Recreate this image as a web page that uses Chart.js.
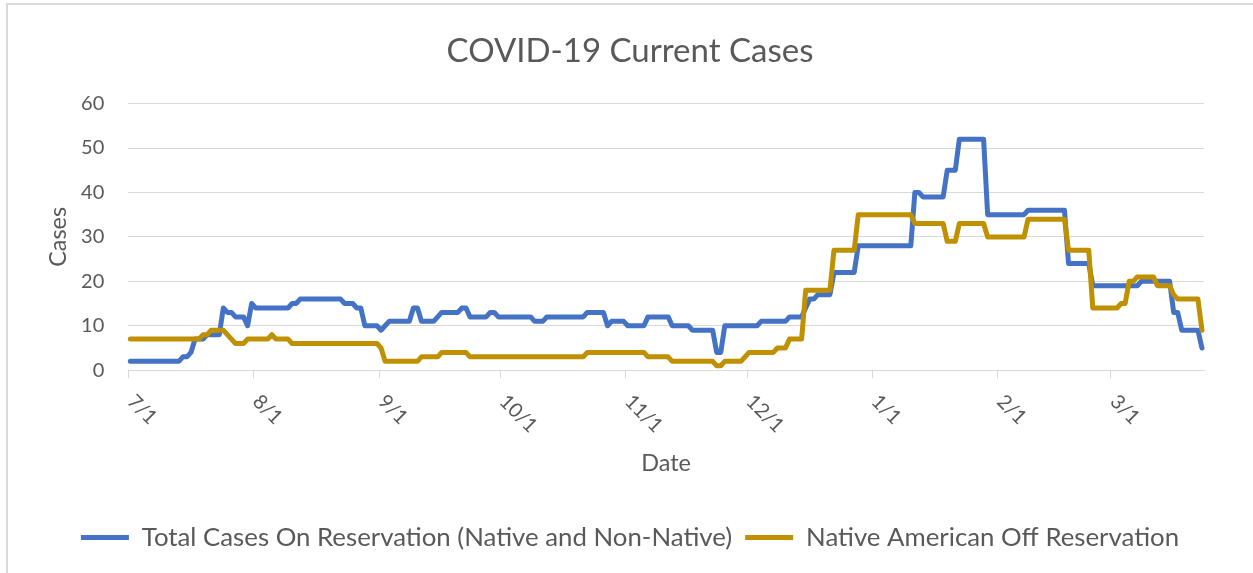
<!DOCTYPE html>
<html>
<head>
<meta charset="utf-8">
<script src="https://cdn.jsdelivr.net/npm/chart.js@4"></script>
<style>
  html, body { margin: 0; padding: 0; background: #fff; overflow: hidden; }
  #frame { position: absolute; left: 6px; top: 3px; width: 1300px; height: 620px;
           border-left: 2px solid #d9d9d9; border-top: 2px solid #d9d9d9; }
  #wrap { position: absolute; left: 0; top: 0; width: 1253px; height: 573px; }
</style>
</head>
<body>
<div id="frame"></div>
<div id="wrap"><canvas id="chart" width="1253" height="573"></canvas></div>
<script>
// daily values, 7/1 .. 3/23 (one row per month)
var onReservation = [
  2,2,2,2,2,2,2,2,2,2,2,2,2,3,3,4,7,7,7,8,8,8,8,14,13,13,12,12,12,10,15,
  14,14,14,14,14,14,14,14,14,15,15,16,16,16,16,16,16,16,16,16,16,16,15,15,15,14,14,10,10,10,10,
  9,10,11,11,11,11,11,11,14,14,11,11,11,11,12,13,13,13,13,13,14,14,12,12,12,12,12,13,13,12,
  12,12,12,12,12,12,12,12,11,11,11,12,12,12,12,12,12,12,12,12,12,13,13,13,13,13,10,11,11,11,11,
  10,10,10,10,10,12,12,12,12,12,12,10,10,10,10,10,9,9,9,9,9,9,4,4,10,10,10,10,10,10,
  10,10,10,11,11,11,11,11,11,11,12,12,12,12,14,16,16,17,17,17,17,22,22,22,22,22,22,28,28,28,28,
  28,28,28,28,28,28,28,28,28,28,40,40,39,39,39,39,39,39,45,45,45,52,52,52,52,52,52,52,35,35,35,
  35,35,35,35,35,35,35,36,36,36,36,36,36,36,36,36,36,24,24,24,24,24,24,19,19,19,19,19,
  19,19,19,19,19,19,19,20,20,20,20,20,20,20,20,13,13,9,9,9,9,9,5
];
var offReservation = [
  7,7,7,7,7,7,7,7,7,7,7,7,7,7,7,7,7,7,8,8,9,9,9,9,8,7,6,6,6,7,7,
  7,7,7,7,8,7,7,7,7,6,6,6,6,6,6,6,6,6,6,6,6,6,6,6,6,6,6,6,6,6,6,
  5,2,2,2,2,2,2,2,2,2,3,3,3,3,3,4,4,4,4,4,4,4,3,3,3,3,3,3,3,3,
  3,3,3,3,3,3,3,3,3,3,3,3,3,3,3,3,3,3,3,3,3,4,4,4,4,4,4,4,4,4,4,
  4,4,4,4,4,3,3,3,3,3,3,2,2,2,2,2,2,2,2,2,2,2,1,1,2,2,2,2,2,3,
  4,4,4,4,4,4,4,5,5,5,7,7,7,7,18,18,18,18,18,18,18,27,27,27,27,27,27,35,35,35,35,
  35,35,35,35,35,35,35,35,35,35,33,33,33,33,33,33,33,33,29,29,29,33,33,33,33,33,33,33,30,30,30,
  30,30,30,30,30,30,30,34,34,34,34,34,34,34,34,34,34,27,27,27,27,27,27,14,14,14,14,14,
  14,14,15,15,20,20,21,21,21,21,21,19,19,19,19,17,16,16,16,16,16,16,9
];
var monthTicks = ["7/1", "8/1", "9/1", "10/1", "11/1", "12/1", "1/1", "2/1", "3/1"];
var yTicks = [0, 10, 20, 30, 40, 50, 60];
var seriesNames = ["Total Cases On Reservation (Native and Non-Native)", "Native American Off Reservation"];

// one category per day starting 7/1/2020
var dayLabels = onReservation.map(function (v, i) {
  var d = new Date(2020, 6, 1 + i);
  return (d.getMonth() + 1) + "/" + d.getDate();
});

var GRAY = "#595959";
var GRID = "#d9d9d9";
Chart.defaults.font.family = "Lato";
Chart.defaults.color = GRAY;

// Excel style month labels, turned 45 deg clockwise
var monthLabels = {
  id: "monthLabels",
  afterDraw: function (chart) {
    var xs = chart.scales.x;
    var ctx = chart.ctx;
    var half = (xs.getPixelForValue(1) - xs.getPixelForValue(0)) / 2;
    ctx.save();
    ctx.font = "20px Lato";
    ctx.fillStyle = GRAY;
    ctx.textAlign = "left";
    ctx.textBaseline = "middle";
    dayLabels.forEach(function (lab, i) {
      if (monthTicks.indexOf(lab) < 0) return;
      ctx.save();
      ctx.translate(xs.getPixelForValue(i) - half + 2.5, xs.top + 28);
      ctx.rotate(Math.PI / 4);
      ctx.fillText(lab, 0, 0);
      ctx.restore();
    });
    ctx.restore();
  }
};

new Chart(document.getElementById("chart"), {
  type: "line",
  data: {
    labels: dayLabels,
    datasets: [
      {
        label: seriesNames[0],
        data: onReservation,
        borderColor: "#4472C4",
        backgroundColor: "#4472C4",
        borderWidth: 5,
        borderCapStyle: "round",
        borderJoinStyle: "round",
        order: 1
      },
      {
        label: seriesNames[1],
        data: offReservation,
        borderColor: "#BF9000",
        backgroundColor: "#BF9000",
        borderWidth: 5,
        borderCapStyle: "round",
        borderJoinStyle: "round",
        order: 0
      }
    ]
  },
  options: {
    responsive: false,
    animation: false,
    devicePixelRatio: 1,
    layout: { padding: { left: 7, right: 0, top: 0, bottom: 12.5 } },
    elements: {
      line: { tension: 0 },
      point: { radius: 0, pointStyle: "line" }
    },
    plugins: {
      title: {
        display: true,
        text: "COVID-19 Current Cases",
        color: GRAY,
        font: { size: 33, weight: "normal" },
        padding: { top: 32, bottom: 32 }
      },
      legend: {
        position: "bottom",
        labels: {
          usePointStyle: true,
          pointStyle: "line",
          pointStyleWidth: 48,
          boxHeight: 25.8,
          padding: 13,
          color: GRAY,
          font: { size: 25.8 },
          sort: function (a, b) { return a.datasetIndex - b.datasetIndex; }
        }
      },
      tooltip: { enabled: false }
    },
    scales: {
      x: {
        offset: true,
        grid: {
          offset: true,
          drawOnChartArea: false,
          tickLength: 8,
          color: function (c) {
            return monthTicks.indexOf(dayLabels[c.index]) >= 0 ? GRID : "rgba(0,0,0,0)";
          }
        },
        border: { color: GRID },
        ticks: { display: false, autoSkip: false },
        title: {
          display: true,
          text: "Date",
          color: GRAY,
          font: { size: 23.4 },
          padding: { top: 0, bottom: 34.5 }
        },
        afterFit: function (s) { s.height = 141.5; }
      },
      y: {
        min: yTicks[0],
        max: yTicks[yTicks.length - 1],
        afterBuildTicks: function (s) { s.ticks = yTicks.map(function (v) { return { value: v }; }); },
        grid: { color: GRID, drawTicks: false },
        border: { display: false },
        ticks: { padding: 24, color: GRAY, font: { size: 20 } },
        title: {
          display: true,
          text: "Cases",
          color: GRAY,
          font: { size: 23.4 },
          padding: { top: 37, bottom: 0 }
        },
        afterFit: function (s) { s.width = 121.3; }
      },
      spacer: {
        type: "linear",
        position: "right",
        grid: { display: false, drawTicks: false },
        border: { display: false },
        ticks: { display: false },
        afterFit: function (s) { s.width = 49; }
      }
    }
  },
  plugins: [monthLabels]
});
</script>
</body>
</html>
